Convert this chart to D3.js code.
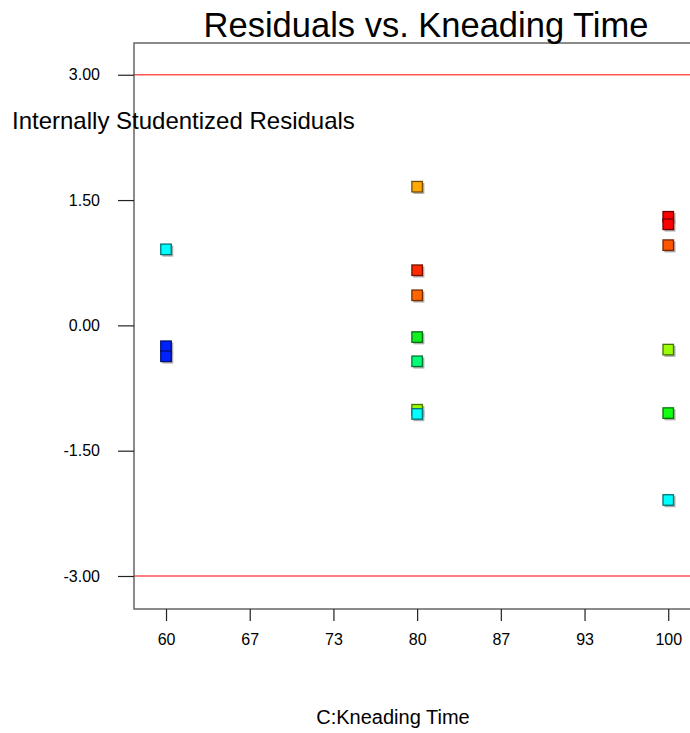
<!DOCTYPE html>
<html>
<head>
<meta charset="utf-8">
<script src="https://cdn.jsdelivr.net/npm/d3@7"></script>
<style>
  html, body { margin: 0; padding: 0; background: #fff; }
  svg { display: block; font-family: "Liberation Sans", Arial, sans-serif; }
</style>
</head>
<body>
<svg id="chart" width="690" height="733"></svg>
<script>
// ---- data ----
const title = "Residuals vs. Kneading Time";
const xLabel = "C:Kneading Time";
const yLabel = "Internally Studentized Residuals";
const kneadingTime = [60, 60, 60, 80, 80, 80, 80, 80, 80, 80, 100, 100, 100, 100, 100, 100];
const residuals = [0.91, -0.25, -0.37, 1.66, 0.66, 0.36, -0.14, -0.43, -1.01, -1.06, 1.30, 1.21, 0.96, -0.29, -1.05, -2.09];
const pointColors = ["#00FFFF", "#0022FF", "#0022FF", "#FFAA00", "#FF2A00", "#FF6600", "#11EE22", "#00FF77", "#99FF00", "#00FFFF", "#FF0000", "#FF0000", "#FF5500", "#99FF00", "#11FF11", "#00FFFF"];
const xTickValues = [60, 66.667, 73.333, 80, 86.667, 93.333, 100];
const xTickLabels = ["60", "67", "73", "80", "87", "93", "100"];
const yTickValues = [3, 1.5, 0, -1.5, -3];
const yTickLabels = ["3.00", "1.50", "0.00", "-1.50", "-3.00"];
const limitLines = [3, -3];

// ---- layout ----
const svg = d3.select("#chart");
const mLeft = 134, mTop = 43, mBottom = 609, mRight = 699;
const x = d3.scaleLinear().domain([57.45, 102.45]).range([mLeft, mRight]);
const y = d3.scaleLinear().domain([-3.395, 3.38]).range([mBottom, mTop]);

// limit lines
svg.selectAll("line.limit").data(limitLines).join("line")
  .attr("class", "limit")
  .attr("x1", mLeft).attr("x2", 690)
  .attr("y1", d => y(d)).attr("y2", d => y(d))
  .attr("stroke", "#FF5555").attr("stroke-width", 1.3);

// frame
const frame = svg.append("g").attr("stroke", "#666").attr("stroke-width", 1.5).attr("fill", "none");
frame.append("path").attr("d", `M${690},${mTop}H${mLeft}V${mBottom}H${690}`);

// y axis
const yAxis = d3.axisLeft(y).tickValues(yTickValues).tickSize(16).tickPadding(18)
  .tickFormat((d, i) => yTickLabels[i]);
const gy = svg.append("g").attr("transform", `translate(${mLeft},0)`).call(yAxis);
gy.select(".domain").remove();
gy.selectAll(".tick line").attr("stroke", "#222").attr("stroke-width", 1.2);
gy.selectAll(".tick text").attr("font-size", 16).attr("fill", "#000").attr("font-family", "Liberation Sans, Arial, sans-serif");

// x axis
const xAxis = d3.axisBottom(x).tickValues(xTickValues).tickSize(12).tickPadding(13)
  .tickFormat((d, i) => xTickLabels[i]);
const gx = svg.append("g").attr("transform", `translate(0,${mBottom})`).call(xAxis);
gx.select(".domain").remove();
gx.selectAll(".tick line").attr("stroke", "#222").attr("stroke-width", 1.2);
gx.selectAll(".tick text").attr("font-size", 16).attr("fill", "#000").attr("font-family", "Liberation Sans, Arial, sans-serif");

// points
const pts = kneadingTime.map((k, i) => ({ k, r: residuals[i], c: pointColors[i] }));
const s = 10.5;
svg.append("g").selectAll("rect.shadow").data(pts).join("rect")
  .attr("x", d => x(d.k) - s / 2 + 1.5).attr("y", d => y(d.r) - s / 2 + 1.5)
  .attr("width", s + 0.5).attr("height", s + 0.5)
  .attr("fill", "#999").attr("opacity", 0.8);
svg.append("g").selectAll("rect.pt").data(pts).join("rect")
  .attr("x", d => x(d.k) - s / 2).attr("y", d => y(d.r) - s / 2)
  .attr("width", s).attr("height", s)
  .attr("fill", d => d.c)
  .attr("stroke", d => d3.color(d.c).darker(2.2))
  .attr("stroke-width", 1.3);

// texts
svg.append("text").attr("x", 426).attr("y", 37).attr("text-anchor", "middle")
  .attr("font-size", 34.5).attr("fill", "#000").text(title);
svg.append("text").attr("x", 12).attr("y", 129)
  .attr("font-size", 24).attr("fill", "#000").text(yLabel);
svg.append("text").attr("x", 393).attr("y", 724).attr("text-anchor", "middle")
  .attr("font-size", 20).attr("fill", "#000").text(xLabel);
</script>
</body>
</html>
